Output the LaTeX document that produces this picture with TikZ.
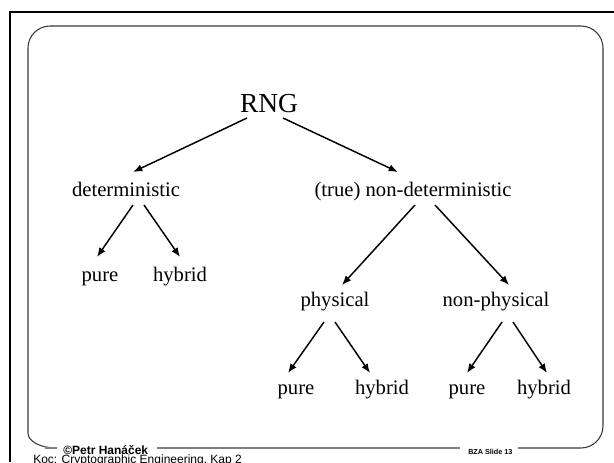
\documentclass[tikz,border=0pt]{standalone}
\usepackage{fontspec}
\setmainfont{Liberation Serif}
\newfontfamily\footfont{Liberation Sans}
\usetikzlibrary{calc,arrows.meta}
\definecolor{edgegray}{HTML}{3A3A3A}
\definecolor{rulegray}{HTML}{808080}
\tikzset{
  term/.style={inner sep=0pt, anchor=base, font=\fontsize{15.5pt}{18pt}\selectfont},
  rootterm/.style={inner sep=0pt, anchor=base, font=\fontsize{20.6pt}{24pt}\selectfont},
  arr/.style={line width=1.1pt, -{Latex[length=7pt,width=5.5pt]}},
  footnote/.style={inner sep=0pt, anchor=base west, font=\footfont\fontsize{9pt}{10pt}\selectfont},
}
\begin{document}
\begin{tikzpicture}[x=0.75pt,y=-0.75pt]
\useasboundingbox (0,0) rectangle (614,462);
\clip (0,0) rectangle (614,462);
\fill[white] (0,0) rectangle (614,462);

% outer slide border (left and top)
\draw[line width=2.2pt] (10,462) -- (10,12) -- (614,12);

% inner rounded panel
\draw[edgegray, line width=0.8pt]
  (57,448) .. controls (40,448) and (28,441.3) .. (28,433)
  -- (28,48) .. controls (28,35.9) and (37.9,26) .. (50,26)
  -- (581,26) .. controls (593.1,26) and (603,35.9) .. (603,48)
  -- (603,426) .. controls (603,438.1) and (593.1,448) .. (581,448) -- (575,448);
\draw[rulegray, line width=1.5pt] (157,448) -- (460,448);
\draw[rulegray, line width=1.5pt] (518,448) -- (578,448);
\draw[rulegray, line width=1.5pt] (45,448) -- (57,448);

% footer texts
\node[footnote, font=\footfont\bfseries\fontsize{9pt}{10pt}\selectfont] (author) at (63,454) {©Petr Hanáček};
\node[footnote, font=\footfont\bfseries\fontsize{5.4pt}{6pt}\selectfont] (slide) at (468,454) {BZA Slide 13};
\node[footnote] (source) at (33,463.5) {Koc: Cryptographic Engineering, Kap 2};

% tree of generator classes
\node[rootterm] (rng) at (269,112) {RNG};
\node[term] (det) at (126,196) {deterministic};
\node[term] (ndet) at (413,196) {(true) non-deterministic};
\node[term] (dpure) at (100,281) {pure};
\node[term] (dhyb) at (180,281) {hybrid};
\node[term] (phys) at (335,306) {physical};
\node[term] (nphys) at (496,306) {non-physical};
\node[term] (ppure) at (296,394) {pure};
\node[term] (phyb) at (382,394) {hybrid};
\node[term] (npure) at (467,394) {pure};
\node[term] (nhyb) at (544,394) {hybrid};

\draw[arr] ($(rng.base)+(-22,6)$) -- ($(det.base)+(7,-24)$);
\draw[arr] ($(rng.base)+(14,6)$) -- ($(ndet.base)+(-15,-24)$);
\draw[arr] ($(det.base)+(7,9)$) -- ($(dpure.base)+(-3,-24)$);
\draw[arr] ($(det.base)+(18,9)$) -- ($(dhyb.base)+(0,-24)$);
\draw[arr] ($(ndet.base)+(2,9)$) -- ($(phys.base)+(7,-21)$);
\draw[arr] ($(ndet.base)+(22,9)$) -- ($(nphys.base)+(13,-21)$);
\draw[arr] ($(phys.base)+(-11,16)$) -- ($(ppure.base)+(-8,-21)$);
\draw[arr] ($(phys.base)+(0,16)$) -- ($(phyb.base)+(-12,-21)$);
\draw[arr] ($(nphys.base)+(6,16)$) -- ($(npure.base)+(0,-21)$);
\draw[arr] ($(nphys.base)+(17,16)$) -- ($(nhyb.base)+(3,-21)$);
\end{tikzpicture}
\end{document}
